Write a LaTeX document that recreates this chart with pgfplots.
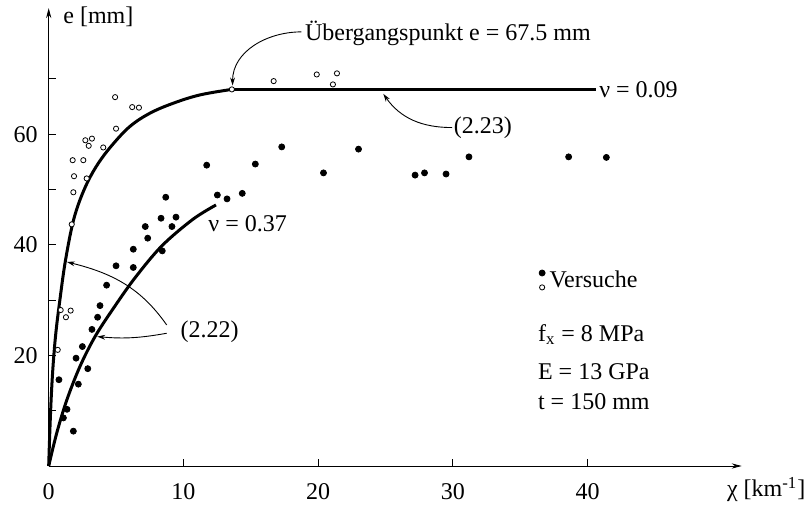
\documentclass[border=0pt]{standalone}
\usepackage{fontspec}
\setmainfont{Liberation Serif}
\usepackage{pgfplots}
\pgfplotsset{compat=1.18}
\usetikzlibrary{arrows.meta}
\newcommand\fs{\fontsize{12bp}{14.4bp}\selectfont}

\begin{document}
\begin{tikzpicture}[font=\fs]
% picture frame: 810 x 505 px at 0.5bp per px, axis origin at (48.7,466) px
\path[use as bounding box] (-24.35bp,-19.5bp) rectangle (380.65bp,233bp);
\begin{axis}[
  at={(0,0)}, anchor=south west,
  x=6.735bp, y=2.765bp,
  xmin=0, xmax=51.45, ymin=0, ymax=82.8,
  enlargelimits=false,
  axis lines=left,
  axis line style={line width=0.5bp, -{Stealth[length=5bp,width=2.6bp]}},
  clip=false,
  xtick={0,10,20,30,40}, xticklabels={0,10,20,30,40},
  ytick={10,20,...,70}, yticklabels={,20,,40,,60,},
  tick align=inside, major tick length=3.5bp,
  tick style={line width=0.5bp, black},
  xticklabel style={font=\fs, yshift=-5.2bp},
  yticklabel style={font=\fs, xshift=-2bp},
  legend style={font=\fs, draw=none, fill=none, inner sep=0pt,
    at={(axis cs:36.35,33.6)}, anchor=west},
  legend cell align=left,
]
\addlegendimage{legend image code/.code={
  \fill (0bp,3.6bp) circle (1.5bp);
  \draw[line width=0.4bp, fill=white] (0bp,-3.6bp) circle (1.3bp);}}
\addlegendentry{Versuche}

% curve (2.22), nu = 0.09
\addplot[line width=1.5bp, smooth, tension=0.6] coordinates {
  (0,0) (0.08,6) (0.2,13) (0.35,19) (0.55,24.5) (0.84,30.2) (1.2,36.5) (1.71,43.1)
  (2.2,47.3) (2.9,51.4) (3.7,54.8) (4.7,58) (6.03,61.4) (7.52,63.8) (9.25,65.6)
  (11.23,67.1) (13.6,68.1)};
% curve (2.23)
\addplot[line width=1.6bp] coordinates {(13.6,68.1) (40.6,68.1)};
% curve (2.22), nu = 0.37
\addplot[line width=1.5bp, smooth, tension=0.55] coordinates {
  (0,0) (0.59,5.9) (1.34,11.9) (2.32,18) (3.44,23.4) (4.8,28.5) (6.4,34)
  (8.4,39.8) (10.7,44.6) (12.42,47.2)};

% tests, filled
\addplot[only marks, mark=*, mark size=1.5bp, mark options={fill=black, draw=black}] coordinates {
  (0.76,15.6) (1.09,8.7) (1.36,10.25) (1.83,6.3) (2.2,14.8) (2.03,19.5) (2.9,17.6)
  (2.5,21.6) (3.21,24.7) (3.63,26.9) (3.81,29.0) (4.3,32.7) (5.0,36.2) (6.28,35.9)
  (6.28,39.2) (7.35,41.2) (8.43,38.9) (7.17,43.3) (8.34,44.8) (9.15,43.3) (9.45,45.0)
  (8.69,48.6) (11.73,54.4) (12.52,49.0) (13.24,48.3) (14.37,49.3) (15.34,54.6)
  (17.3,57.7) (20.4,53.0) (23.0,57.3) (27.2,52.6) (27.9,53.0) (29.5,52.8)
  (31.2,55.9) (38.6,55.9) (41.4,55.8)};
% tests, open
\addplot[only marks, mark=*, mark size=1.3bp, mark options={fill=white, draw=black, line width=0.4bp}] coordinates {
  (0.67,21.0) (0.89,28.2) (1.28,26.9) (1.63,28.1) (1.71,43.7) (1.83,49.5) (1.88,52.4)
  (1.78,55.3) (2.57,55.3) (2.82,52.0) (2.72,58.9) (3.21,59.2) (2.97,57.9) (4.05,57.6)
  (4.93,66.7) (5.0,61.0) (6.2,64.9) (6.7,64.8) (16.7,69.6) (19.9,70.8) (21.4,71.0)
  (21.1,69.0)};
% transition point
\addplot[only marks, mark=*, mark size=1.3bp, mark options={fill=white, draw=black, line width=0.4bp}] coordinates {(13.6,68.1)};

% labels and call-outs
\node[anchor=west, inner sep=0pt] at (axis cs:1.06,81.2) {e [mm]};
\node[anchor=base west, inner sep=0pt] at (axis cs:50.33,-5.55) {χ [km\textsuperscript{-1}]};

\node[anchor=west, inner sep=0pt] at (axis cs:19.0,78.3) {Übergangspunkt e = 67.5 mm};
\draw[line width=0.45bp, -{Stealth[length=4bp,width=2.4bp]}]
  (axis cs:18.75,78.5) to[out=180,in=90] (axis cs:13.65,68.8);

\node[anchor=west, inner sep=0pt] at (axis cs:40.85,68.1) {ν = 0.09};
\node[anchor=west, inner sep=0pt] at (axis cs:30.05,61.1) {(2.23)};
\draw[line width=0.45bp, -{Stealth[length=4bp,width=2.4bp]}]
  (axis cs:29.95,61.2) to[out=180,in=-55] (axis cs:24.84,67.3);

\node[anchor=west, inner sep=0pt] at (axis cs:11.83,43.9) {ν = 0.37};
\node[anchor=west, inner sep=0pt] at (axis cs:9.76,24.3) {(2.22)};
\draw[line width=0.45bp, -{Stealth[length=4bp,width=2.4bp]}]
  (axis cs:8.76,25.5) to[out=125,in=-14] (axis cs:1.35,36.9);
\draw[line width=0.45bp, -{Stealth[length=4bp,width=2.4bp]}]
  (axis cs:8.76,24.0) to[out=190,in=-5] (axis cs:3.6,23.4);

\node[anchor=base west, inner sep=0pt] at (axis cs:36.3,22.6) {f\textsubscript{x} = 8 MPa};
\node[anchor=base west, inner sep=0pt] at (axis cs:36.3,15.7) {E = 13 GPa};
\node[anchor=base west, inner sep=0pt] at (axis cs:36.3,10.3) {t = 150 mm};
\end{axis}
\end{tikzpicture}
\end{document}
